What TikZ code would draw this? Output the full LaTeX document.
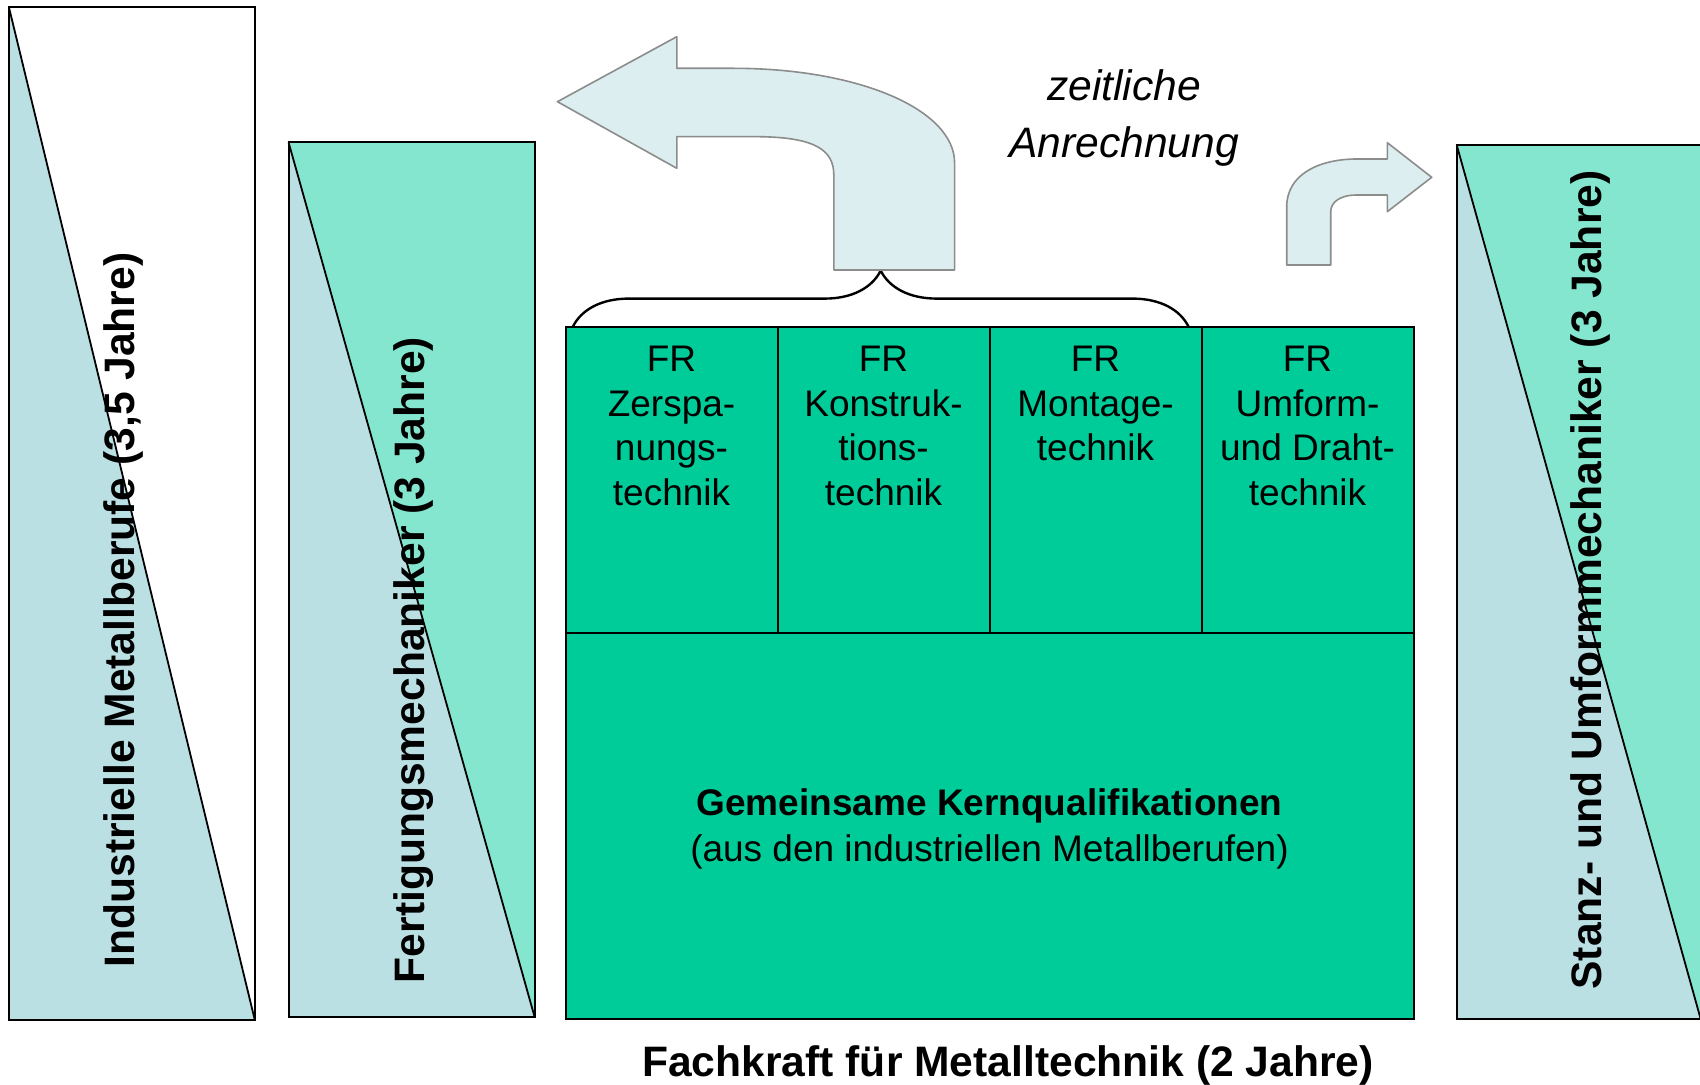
\documentclass[tikz,border=0pt]{standalone}
\usepackage{fontspec}
\setmainfont{Liberation Sans}
\usetikzlibrary{positioning,decorations.pathreplacing}
\definecolor{lightteal}{HTML}{BBE0E3}
\definecolor{mint}{HTML}{84E6CE}
\definecolor{kerngreen}{HTML}{00CC99}
\definecolor{arrowfill}{HTML}{DCEEF0}
\definecolor{arrowline}{HTML}{8C8C8C}
\begin{document}
\begin{tikzpicture}
[x=0.5pt,y=-0.5pt,
  coldecorate/.style={shape=rectangle,inner sep=0pt,outer sep=0pt,anchor=north west},%
  boxdecorate/.style={shape=rectangle,draw,line width=1pt,fill=kerngreen,inner sep=0pt,outer sep=0pt,minimum width=106pt},%
  frdecorate/.style={align=center,inner sep=0pt,font=\fontsize{18.5}{22.3}\selectfont},%
  sidedecorate/.style={rotate=90,inner sep=0pt,font=\fontsize{21.3}{25}\selectfont\bfseries},%
  arrowdecorate/.style={fill=arrowfill,draw=arrowline,line width=0.8pt,line join=round},%
  bracedecorate/.style={decorate,decoration={brace,amplitude=28pt},line width=1.2pt}]
\useasboundingbox (0,0) rectangle (1700,1085);
%% side columns
\foreach \nodename/\x/\y/\w/\h/\upper in {ind/8.8/6.7/123pt/506.6pt/white,
  fer/288.6/142.5/123pt/437.2pt/mint, sta/1456.7/145/122pt/437.1pt/mint} {
  \node (\nodename) at (\x,\y) [coldecorate,fill=\upper,minimum width=\w,minimum height=\h] {};
  \fill[lightteal] (\nodename.north west) -- (\nodename.south east)
    -- (\nodename.south west) -- cycle;
  \draw[line width=0.9pt] (\nodename.north west) -- (\nodename.south east);
  \draw[line width=1pt] (\nodename.north west) rectangle (\nodename.south east);
}
\node (indlabel) at (123,610) [sidedecorate] {Industrielle Metallberufe (3,5 Jahre)};
\node (ferlabel) at (414,660) [sidedecorate] {Fertigungsmechaniker (3 Jahre)};
\node (stalabel) at (1590,580) [sidedecorate] {Stanz- und Umformmechaniker (3 Jahre)};
%% Fachrichtungen
\foreach \nodename/\x/\txt in {zer/671.5/{FR\\Zerspa-\\nungs-\\technik},
  kon/883.5/{FR\\Konstruk-\\tions-\\technik}, mon/1095.5/{FR\\Montage-\\technik},
  umf/1307.5/{FR\\Umform-\\und Draht-\\technik}} {
  \node (\nodename) at (\x,480) [boxdecorate,minimum height=153.4pt] {};
  \node (\nodename-t) [frdecorate,below=9.5pt of \nodename.north] {\txt};
}
%% Kernqualifikationen
\node (kern) at (989.5,826.3) [boxdecorate,minimum width=424pt,minimum height=193pt] {};
\node (kern-t) at (989.5,829) [align=center,inner sep=0pt,font=\fontsize{18.5}{22.6}\selectfont]
  {\textbf{Gemeinsame Kernqualifikationen}\\(aus den industriellen Metallberufen)};
\node (fach) at (1008,1065) [inner sep=0pt,font=\fontsize{21.3}{25}\selectfont\bfseries]
  {Fachkraft für Metalltechnik (2 Jahre)};
%% brace and arrows
\draw[bracedecorate] ([xshift=3.7pt]zer.north west) -- ([xshift=-6.5pt]mon.north east);
\path[arrowdecorate] (833.8,270) -- (833.8,175)
  .. controls (833.8,150) and (815,137.5) .. (760,136.7) -- (676.8,136.7)
  -- (676.8,168.3) -- (557.4,101.7) -- (676.8,36.7) -- (676.8,68.3) -- (733,68.3)
  .. controls (860,68.3) and (954.6,110) .. (954.6,163) -- (954.6,270) -- cycle;
\path[arrowdecorate] (1286.7,265) -- (1286.7,206.7)
  .. controls (1286.7,175) and (1318,159) .. (1357,159) -- (1387.3,159)
  -- (1387.3,142.7) -- (1431.7,177.3) -- (1387.3,211.7) -- (1387.3,195) -- (1357,195)
  .. controls (1340,195) and (1330.7,202) .. (1330.7,212) -- (1330.7,265) -- cycle;
\node (anr) at (1124,118) [align=center,inner sep=0pt,
  font=\fontsize{21.3}{28.5}\selectfont\itshape] {zeitliche\\Anrechnung};
\end{tikzpicture}
\end{document}
